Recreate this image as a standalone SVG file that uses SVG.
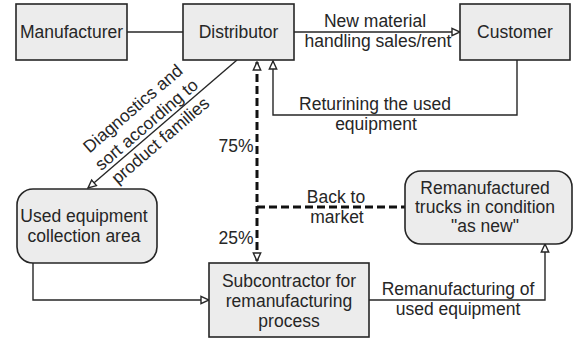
<svg xmlns="http://www.w3.org/2000/svg" width="574" height="342" viewBox="0 0 574 342">
  <style>
    .box { fill: #ececec; stroke: #262626; stroke-width: 1.6; }
    .lbl { font-family: "Liberation Sans", Arial, sans-serif; font-size: 17.5px; fill: #262626; text-anchor: middle; }
    .edge { fill: none; stroke: #262626; stroke-width: 1.4; }
    .dash { fill: none; stroke: #111; stroke-width: 3; stroke-dasharray: 8 4; }
  </style>
  <defs>
    <marker id="open" markerUnits="userSpaceOnUse" markerWidth="10" markerHeight="10" refX="9" refY="4.5" orient="auto-start-reverse" viewBox="0 0 10 9">
      <path d="M1,0.8 L9,4.5 L1,8.2 Z" fill="#fff" stroke="#262626" stroke-width="1.4" stroke-dasharray="none"/>
    </marker>
  </defs>
  <rect width="574" height="342" fill="#fff"/>

  <g id="connectors">
    <!-- Manufacturer to Distributor -->
    <line class="edge" x1="127" y1="32" x2="183" y2="32"/>
    <!-- Distributor to Customer -->
    <line class="edge" x1="294" y1="32" x2="460" y2="32" marker-end="url(#open)"/>
    <!-- Customer back to Distributor -->
    <polyline class="edge" points="517,60 517,115 273,115 273,61" marker-end="url(#open)"/>
    <!-- Distributor to collection area -->
    <line class="edge" x1="237" y1="60" x2="88" y2="188" marker-end="url(#open)"/>
    <!-- collection area to Subcontractor -->
    <polyline class="edge" points="33,263 33,300 209,300" marker-end="url(#open)"/>
    <!-- Subcontractor to Remanufactured trucks -->
    <polyline class="edge" points="369,300 545,300 545,244" marker-end="url(#open)"/>
    <!-- back-to-market split -->
    <line class="dash" x1="257" y1="62" x2="257" y2="261" marker-start="url(#open)" marker-end="url(#open)"/>
    <line class="dash" x1="257" y1="207" x2="405" y2="207"/>
  </g>

  <g id="manufacturer">
    <rect class="box" x="16" y="4" width="111" height="56"/>
    <text class="lbl" x="71.5" y="38">Manufacturer</text>
  </g>
  <g id="distributor">
    <rect class="box" x="183" y="4" width="111" height="56"/>
    <text class="lbl" x="238.5" y="38">Distributor</text>
  </g>
  <g id="customer">
    <rect class="box" x="460" y="4" width="110" height="56"/>
    <text class="lbl" x="515" y="38">Customer</text>
  </g>
  <g id="collection-area">
    <rect class="box" x="17" y="189" width="140" height="74" rx="16" ry="16"/>
    <text class="lbl" x="84" y="222">Used equipment</text>
    <text class="lbl" x="84" y="242">collection area</text>
  </g>
  <g id="remanufactured">
    <rect class="box" x="405" y="171" width="167" height="73" rx="16" ry="16"/>
    <text class="lbl" x="485" y="194">Remanufactured</text>
    <text class="lbl" x="485" y="213">trucks in condition</text>
    <text class="lbl" x="485" y="232">"as new"</text>
  </g>
  <g id="subcontractor">
    <rect class="box" x="209" y="263" width="160" height="74"/>
    <text class="lbl" x="289" y="287">Subcontractor for</text>
    <text class="lbl" x="289" y="307">remanufacturing</text>
    <text class="lbl" x="289" y="327">process</text>
  </g>

  <g id="edge-labels">
    <text class="lbl" x="375" y="27">New material</text>
    <text class="lbl" x="378" y="47">handling  sales/rent</text>
    <text class="lbl" x="375" y="110">Returining  the used</text>
    <text class="lbl" x="376" y="130">equipment</text>
    <g transform="translate(153,132) rotate(-40.7)">
      <text class="lbl" x="0" y="-25">Diagnostics  and</text>
      <text class="lbl" x="0" y="-4">sort according to</text>
      <text class="lbl" x="0" y="17">product families</text>
    </g>
    <text class="lbl" x="236" y="152">75%</text>
    <text class="lbl" x="236" y="244">25%</text>
    <text class="lbl" x="336" y="203">Back to</text>
    <text class="lbl" x="337" y="223">market</text>
    <text class="lbl" x="458" y="295">Remanufacturing  of</text>
    <text class="lbl" x="458" y="315">used equipment</text>
  </g>
</svg>
